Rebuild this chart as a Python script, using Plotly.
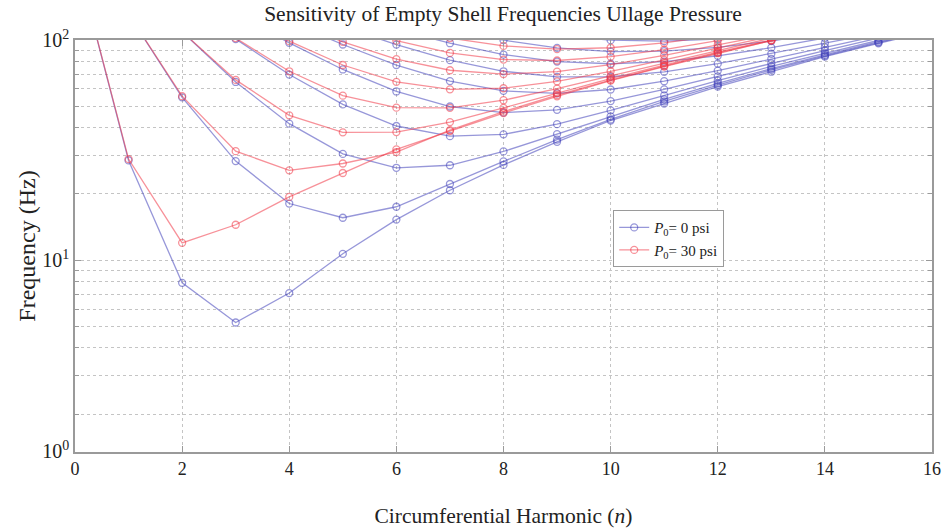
import plotly.graph_objects as go

# Circumferential harmonic number n
harmonic_n = list(range(17))

# Frequencies (Hz), ullage pressure P0 = 0 psi, axial modes 1..10
f0_m1 = [245, 28.4, 7.9, 5.22, 7.1, 10.7, 15.3, 20.8, 27.1, 34.5, 43.1, 51.5, 61.5, 71.8, 84.0, 96.6, 110]
f0_m2 = [245, 131, 54.9, 28.2, 18.1, 15.6, 17.5, 22.2, 28.1, 35.3, 43.6, 52.6, 62.4, 73.2, 84.8, 97.3, 111]
f0_m3 = [245, 187, 109, 64.5, 41.7, 30.4, 26.3, 27.0, 31.2, 37.4, 45.0, 53.8, 63.5, 74.2, 85.7, 98.2, 111]
f0_m4 = [245, 211, 150, 101, 69.7, 51.0, 40.7, 36.6, 37.3, 41.5, 47.9, 56.0, 65.4, 75.9, 87.3, 99.7, 113]
f0_m5 = [245, 224, 177, 131, 97.1, 73.5, 58.4, 49.9, 46.8, 48.2, 52.8, 59.7, 68.4, 78.4, 89.6, 102, 115]
f0_m6 = [245, 230, 195, 155, 121, 95.4, 77.0, 65.1, 58.8, 57.2, 59.6, 65.0, 72.6, 82.0, 92.7, 105, 118]
f0_m7 = [245, 234, 207, 174, 142, 115, 95.3, 81.0, 72.1, 68.0, 68.1, 71.7, 78.1, 86.6, 96.7, 108, 121]
f0_m8 = [245, 237, 216, 187, 159, 133, 112, 96.7, 85.9, 79.8, 78.0, 79.8, 84.8, 92.3, 102, 113, 125]
f0_m9 = [246, 239, 222, 198, 173, 149, 128, 112, 99.8, 92.1, 88.6, 89.0, 92.6, 98.9, 108, 118, 130]
f0_m10 = [246, 241, 227, 206, 184, 162, 142, 126, 113, 105, 99.8, 98.8, 101, 106, 114, 124, 135]

# Frequencies (Hz), ullage pressure P0 = 30 psi, axial modes 1..8
f30_m1 = [245, 28.8, 12.0, 14.5, 19.4, 24.9, 31.9, 38.6, 46.6, 55.5, 65.4, 75.8, 87.1, 99.3, 112, 126, 141]
f30_m2 = [245, 131, 55.6, 31.3, 25.6, 27.5, 31.0, 39.0, 47.3, 56.2, 65.7, 76.2, 87.5, 99.7, 113, 127, 142]
f30_m3 = [245, 187, 109, 65.9, 45.5, 38.1, 38.2, 42.4, 49.2, 57.4, 66.7, 77.0, 88.2, 100, 114, 128, 142]
f30_m4 = [245, 211, 150, 102, 72.1, 55.9, 49.3, 49.2, 53.3, 60.1, 68.7, 78.6, 89.6, 102, 115, 129, 144]
f30_m5 = [245, 224, 177, 132, 98.8, 77.0, 64.6, 59.7, 60.4, 64.9, 72.1, 81.2, 91.8, 104, 116, 130, 145]
f30_m6 = [245, 230, 195, 156, 123, 98.1, 81.9, 72.9, 70.0, 71.9, 77.3, 85.2, 95.0, 106, 119, 133, 147]
f30_m7 = [245, 234, 207, 174, 143, 118, 99.3, 87.4, 81.5, 80.7, 84.0, 90.5, 99.3, 110, 122, 135, 150]
f30_m8 = [245, 237, 216, 188, 160, 135, 116, 102, 94.0, 90.9, 92.2, 97.0, 105, 114, 126, 139, 153]

series_0psi = [f0_m1, f0_m2, f0_m3, f0_m4, f0_m5, f0_m6, f0_m7, f0_m8, f0_m9, f0_m10]
series_30psi = [f30_m1, f30_m2, f30_m3, f30_m4, f30_m5, f30_m6, f30_m7, f30_m8]

legend_0 = "<i>P</i><sub>0</sub>= 0 psi"
legend_30 = "<i>P</i><sub>0</sub>= 30 psi"

# log-axis grid positions; labelled decades
y_gridvals = [2, 3, 4, 5, 6, 7, 8, 9, 20, 30, 40, 50, 60, 70, 80, 90]
y_decades = [1.36, 10, 100]
y_decade_text = ["10<sup>0</sup>", "10<sup>1</sup>", "10<sup>2</sup>"]

BLUE = "rgba(65,65,185,0.55)"
RED = "rgba(240,55,70,0.55)"
FONT = "Liberation Serif, Times New Roman, serif"
INK = "#222222"
FRAME = "#9a9a9a"

fig = go.Figure()
for i, ys in enumerate(series_0psi):
    fig.add_trace(go.Scatter(
        x=harmonic_n, y=ys, mode="lines+markers", name=legend_0,
        legendgroup="p0", showlegend=(i == 0),
        line=dict(color=BLUE, width=1.3),
        marker=dict(symbol="circle-open", size=7, color=BLUE, line=dict(width=1.3, color=BLUE)),
    ))
for i, ys in enumerate(series_30psi):
    fig.add_trace(go.Scatter(
        x=harmonic_n, y=ys, mode="lines+markers", name=legend_30,
        legendgroup="p30", showlegend=(i == 0),
        line=dict(color=RED, width=1.3),
        marker=dict(symbol="circle-open", size=7, color=RED, line=dict(width=1.3, color=RED)),
    ))

fig.update_layout(
    width=946, height=531,
    margin=dict(l=75, r=14, t=40, b=79),
    paper_bgcolor="white", plot_bgcolor="white",
    font=dict(family=FONT, color=INK, size=17),
    title=dict(text="Sensitivity of Empty Shell Frequencies Ullage Pressure",
               x=0.5317, xanchor="center", y=0.974, yanchor="middle",
               font=dict(size=21.5, family=FONT, color=INK)),
    showlegend=True,
    legend=dict(x=0.628, y=0.587, xanchor="left", yanchor="top",
                bgcolor="white", bordercolor=FRAME, borderwidth=1,
                font=dict(size=15, family=FONT, color=INK),
                tracegroupgap=0, itemwidth=30),
)
fig.update_xaxes(
    range=[0, 16], dtick=2, tick0=0, automargin=False,
    showline=True, linecolor=FRAME, linewidth=1.5, mirror="ticks",
    ticks="inside", ticklen=6, tickcolor=FRAME,
    showgrid=True, gridcolor="#c4c4c4", griddash="dot", gridwidth=1,
    zeroline=False,
    tickfont=dict(size=18, family=FONT, color=INK),
    title=dict(text="Circumferential Harmonic (<i>n</i>)", standoff=30,
               font=dict(size=21.5, family=FONT, color=INK)),
)
fig.update_yaxes(
    type="log", range=[0.1298, 2], automargin=False,
    tickmode="array", tickvals=y_decades, ticktext=y_decade_text,
    showline=True, linecolor=FRAME, linewidth=1.5, mirror="ticks",
    ticks="inside", ticklen=6, tickcolor=FRAME,
    showgrid=True, gridcolor="#c4c4c4", griddash="dot", gridwidth=1,
    minor=dict(tickmode="array", tickvals=y_gridvals, ticks="inside", ticklen=4,
               tickcolor=FRAME, showgrid=True, gridcolor="#c4c4c4", griddash="dot", gridwidth=1),
    zeroline=False,
    tickfont=dict(size=20, family=FONT, color=INK),
    title=dict(text="Frequency (Hz)", standoff=0,
               font=dict(size=24, family=FONT, color=INK)),
)

fig.write_html("out.html")
